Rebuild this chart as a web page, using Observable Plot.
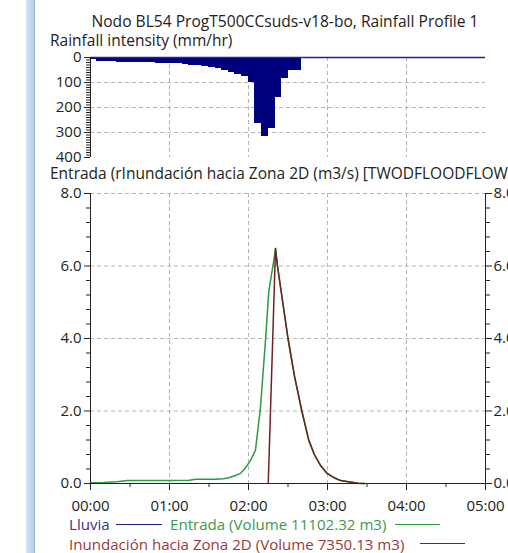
<!DOCTYPE html>
<html><head><meta charset="utf-8">
<script src="https://cdn.jsdelivr.net/npm/d3@7"></script>
<script src="https://cdn.jsdelivr.net/npm/@observablehq/plot@0.6"></script>
<style>
body{margin:0;background:#fff;}
#wrap{position:relative;width:508px;height:553px;overflow:hidden;background:#fff;font-family:"Open Sans",sans-serif;}
.t{position:absolute;white-space:nowrap;font-size:15.5px;line-height:15px;color:#222;}
.leg{font-size:15.1px;}
#band{position:absolute;left:26px;top:0;width:8px;height:553px;background:linear-gradient(to right,#d3e3f5,#b6cfeb);border-right:1px solid #92b2d8;}
.box{position:absolute;left:0;}
.lg{position:absolute;height:0;border-top:1.5px solid;}
</style></head><body>
<div id="wrap">
  <div id="band"></div>
  <div id="top" class="box" style="top:0"></div>
  <div id="bot" class="box" style="top:165px"></div>
  <div class="t" style="left:285px;top:14px;transform:translateX(-50%);font-size:15.6px">Nodo BL54 ProgT500CCsuds-v18-bo, Rainfall Profile 1</div>
  <div class="t" style="left:50px;top:33px">Rainfall intensity (mm/hr)</div>
  <div class="t" style="left:50px;top:166px">Entrada (rInundación hacia Zona 2D (m3/s) [TWODFLOODFLOW]</div>
  <div class="t leg" style="left:69px;top:517px;color:#35358c">Lluvia</div>
  <div class="lg" style="left:116px;width:46px;top:524px;border-color:#1c1c80"></div>
  <div class="t leg" style="left:170px;top:517px;color:#3a9a48">Entrada (Volume 11102.32 m3)</div>
  <div class="lg" style="left:395px;width:45px;top:524px;border-color:#2e9b3e"></div>
  <div class="t leg" style="left:69px;top:537px;color:#9a3a3a">Inundación hacia Zona 2D (Volume 7350.13 m3)</div>
  <div class="lg" style="left:420px;width:45px;top:543px;border-color:#7a2222"></div>
</div>
<script>
// Rainfall profile: 5-minute blocks (start minute, intensity mm/hr)
const rainStart = [0,5,10,15,20,25,30,35,40,45,50,55,60,65,70,75,80,85,90,95,100,105,110,115,120,125,130,135,140,145,150,155];
const rainIntensity = [6,14,15,15,16,16,17,17,18,18,20,21,22,23,25,28,31,34,38,43,49,56,64,74,96,263,313,283,156,80,49,49];

// Entrada (m3/s), time in minutes
const entradaTime = [0,10,20,28,40,60,75,80,95,101,105,110,114,117,121.5,125.3,129.1,132.9,135.4,139.2,140.5,142,146,150,155,160.5,165.8,170,175,180,185,190,197,203,208];
const entradaFlow = [0.02,0.03,0.05,0.08,0.08,0.08,0.09,0.12,0.12,0.13,0.16,0.22,0.28,0.4,0.63,0.92,2.1,3.94,5.3,6.15,6.48,6.0,5.0,4.0,2.95,2.0,1.19,0.8,0.48,0.27,0.16,0.08,0.04,0.01,0];

// Inundación hacia Zona 2D (m3/s)
const inundTime = [135,140.5,142,146,150,155,160.5,165.8,170,175,180,185,190,197,203,208];
const inundFlow = [0,6.48,6.0,5.0,4.0,2.95,2.0,1.19,0.8,0.48,0.27,0.16,0.08,0.04,0.01,0];

// Axis ticks
const hourTicks = [0,60,120,180,240,300];
const hourLabels = ["00:00","01:00","02:00","03:00","04:00","05:00"];
const halfHourTicks = [30,90,150,210,270];
const rainTicks = [0,100,200,300,400];
const flowTicks = [0,2,4,6,8];
const flowLabels = ["0.0","2.0","4.0","6.0","8.0"];

const rain = rainStart.map((s,i)=>({start:s,end:s+5,v:rainIntensity[i]}));
const entrada = entradaTime.map((t,i)=>({t,q:entradaFlow[i]}));
const inund = inundTime.map((t,i)=>({t,q:inundFlow[i]}));

const font = '"Open Sans",sans-serif';
const grid = {stroke:"#b4b4b4", strokeDasharray:"4,3", strokeWidth:1};
const axisCol = "#222";
const rainMinor = d3.range(0,401,10).filter(d=>d%100!==0);
const flowMinor = d3.range(0,81,4).filter(d=>d%20!==0).map(d=>d/10);

const topPlot = Plot.plot({
  width:508, height:165, marginLeft:90, marginRight:23, marginTop:57, marginBottom:8,
  style:{fontFamily:font, fontSize:"15px", color:"#222", background:"transparent"},
  x:{domain:[0,300], axis:null},
  y:{domain:[0,400], reverse:true},
  marks:[
    Plot.ruleX(hourTicks.slice(1,5), grid),
    Plot.ruleY(rainTicks.slice(1,4), grid),
    Plot.rect(rain, {x1:"start", x2:"end", y1:0, y2:"v", inset:0, fill:"#00007c", stroke:"#00007c", strokeWidth:1, shapeRendering:"crispEdges"}),
    Plot.ruleY([0], {stroke:"#24248a", strokeWidth:1.5}),
    Plot.ruleX([0], {stroke:axisCol}),
    Plot.axisY({anchor:"left", label:null, ticks:rainTicks, tickSize:6, tickPadding:3, tickFormat:d=>String(d), stroke:axisCol}),
    Plot.axisY({anchor:"left", label:null, ticks:rainMinor, tickSize:4, tickFormat:()=>"", stroke:axisCol})
  ]
});
document.getElementById("top").appendChild(topPlot);

const botPlot = Plot.plot({
  width:508, height:388, marginLeft:90, marginRight:23, marginTop:28, marginBottom:70,
  style:{fontFamily:font, fontSize:"15px", color:"#222", background:"transparent", overflow:"visible"},
  x:{domain:[0,300]},
  y:{domain:[0,8]},
  marks:[
    Plot.ruleX(hourTicks.slice(1,5), grid),
    Plot.ruleY(flowTicks.slice(1), grid),
    Plot.line(entrada, {x:"t", y:"q", stroke:"#2e9b3e", strokeWidth:1.5}),
    Plot.line(inund, {x:"t", y:"q", stroke:"#6e2222", strokeWidth:1.5}),
    Plot.ruleX([0,300], {stroke:axisCol}),
    Plot.ruleY([0], {stroke:axisCol}),
    Plot.axisY({anchor:"left", label:null, ticks:flowTicks, tickSize:6, tickPadding:3, tickFormat:d=>flowLabels[flowTicks.indexOf(d)], stroke:axisCol}),
    Plot.axisY({anchor:"left", label:null, ticks:flowMinor, tickSize:4, tickFormat:()=>"", stroke:axisCol}),
    Plot.axisY({anchor:"right", label:null, ticks:flowTicks, tickSize:6, tickPadding:2, tickFormat:d=>flowLabels[flowTicks.indexOf(d)], stroke:axisCol}),
    Plot.axisY({anchor:"right", label:null, ticks:flowMinor, tickSize:4, tickFormat:()=>"", stroke:axisCol}),
    Plot.axisX({anchor:"bottom", label:null, ticks:hourTicks, tickSize:7, tickPadding:10, tickFormat:d=>hourLabels[hourTicks.indexOf(d)], stroke:axisCol}),
    Plot.axisX({anchor:"bottom", label:null, ticks:halfHourTicks, tickSize:4, tickFormat:()=>"", stroke:axisCol})
  ]
});
document.getElementById("bot").appendChild(botPlot);
</script>
</body></html>
